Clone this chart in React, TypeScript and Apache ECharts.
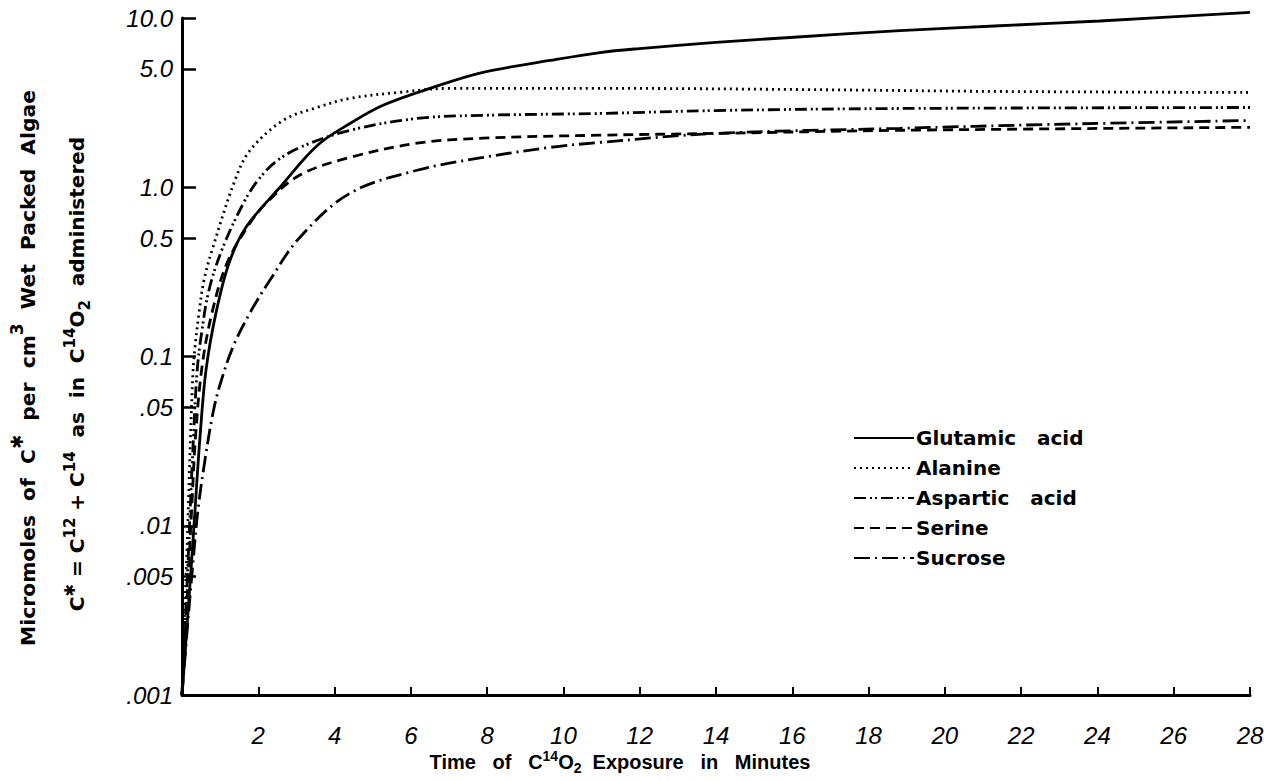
import React, { useEffect, useRef } from "react";
import * as echarts from "echarts";

const seriesNames = ["Glutamic acid", "Alanine", "Aspartic acid", "Serine", "Sucrose"];

// [minutes, micromoles]
const glutamic = [
  [0, 0.001], [0.131, 0.00254], [0.249, 0.00605], [0.354, 0.0137], [0.472, 0.0335],
  [0.629, 0.083], [0.891, 0.181], [1.232, 0.356], [1.678, 0.58], [2.569, 1.0], [3.539, 1.76],
  [4.404, 2.38], [5.27, 3.05], [6.58, 3.89], [7.89, 4.77], [9.65, 5.61], [10.96, 6.25],
  [12.0, 6.6], [14.0, 7.18], [15.94, 7.67], [18.82, 8.42], [21.44, 9.0], [24.06, 9.6], [28, 10.8],
];
const alanine = [
  [0, 0.001], [0.052, 0.00254], [0.118, 0.00605], [0.17, 0.0137], [0.223, 0.0335],
  [0.288, 0.08], [0.341, 0.114], [0.446, 0.181], [0.577, 0.283], [0.813, 0.443], [1.389, 1.1],
  [1.782, 1.65], [2.647, 2.48], [3.539, 2.96], [4.404, 3.35], [5.714, 3.64], [7.025, 3.84],
  [10.96, 3.84], [16.2, 3.78], [21.49, 3.68], [28, 3.63],
];
const aspartic = [
  [0, 0.001], [0.079, 0.00254], [0.157, 0.00605], [0.223, 0.0137], [0.301, 0.0335],
  [0.393, 0.08], [0.498, 0.13], [0.708, 0.247], [1.075, 0.443], [1.651, 0.838], [1.992, 1.1],
  [2.438, 1.404], [3.093, 1.72], [4.404, 2.17], [6.16, 2.55], [7.89, 2.66], [10.96, 2.73],
  [14.0, 2.84], [18.82, 2.92], [28, 2.96],
];
const serine = [
  [0, 0.001], [0.092, 0.00254], [0.183, 0.00605], [0.262, 0.0137], [0.354, 0.0335],
  [0.524, 0.0868], [0.786, 0.181], [1.18, 0.356], [1.78, 0.613], [2.23, 0.816], [3.09, 1.18],
  [4.4, 1.5], [6.16, 1.82], [7.89, 1.95], [10.96, 2.03], [14.0, 2.08], [18.82, 2.17], [28, 2.26],
];
const sucrose = [
  [0, 0.001], [0.144, 0.00254], [0.288, 0.00605], [0.419, 0.0124], [0.603, 0.0245],
  [0.813, 0.0465], [0.996, 0.0681], [1.337, 0.114], [1.782, 0.181], [2.307, 0.283],
  [3.093, 0.507], [4.404, 0.922], [6.16, 1.26], [7.89, 1.5], [9.65, 1.72], [10.96, 1.84],
  [14.0, 2.08], [18.82, 2.23], [22.75, 2.35], [28, 2.48],
];

const yTickValues = [0.001, 0.005, 0.01, 0.05, 0.1, 0.5, 1, 5, 10];
const yTickLabels = [".001", ".005", ".01", ".05", "0.1", "0.5", "1.0", "5.0", "10.0"];

const lineTypes: any[] = ["solid", [2, 4], [12, 4, 2, 3, 2, 4], [10, 6], [16, 5, 2, 5]];

const FONT = "DejaVu Sans";

export default function App() {
  const ref = useRef<HTMLDivElement>(null);
  useEffect(() => {
    document.body.style.margin = "0";
    const chart = echarts.init(ref.current!, null, { renderer: "svg" });
    const datasets = [glutamic, alanine, aspartic, serine, sucrose];
    const nb = "\u00a0";
    const option: any = {
      animation: false,
      backgroundColor: "#fff",
      grid: { left: 182, right: 24, top: 18, bottom: 86, containLabel: false },
      legend: {
        orient: "vertical",
        left: 848,
        top: 423,
        itemWidth: 60,
        itemHeight: 14,
        itemGap: 10,
        data: seriesNames,
        itemStyle: { opacity: 0 },
        formatter: (n: string) => n.replace(/ /g, nb + nb + nb),
        textStyle: {
          fontFamily: FONT,
          fontSize: 20,
          fontWeight: "bold",
          color: "#000",
          padding: [0, 0, 0, -3],
        },
      },
      xAxis: {
        type: "value",
        min: 0,
        max: 28,
        interval: 2,
        axisLine: { lineStyle: { color: "#000", width: 3 } },
        axisTick: { inside: true, length: 8, lineStyle: { color: "#000", width: 2 } },
        splitLine: { show: false },
        axisLabel: {
          margin: 28,
          fontFamily: "Liberation Sans",
          fontStyle: "italic",
          fontSize: 24,
          color: "#000",
          formatter: (v: number) => (v === 0 ? "" : String(v)),
        },
      },
      yAxis: {
        type: "log",
        logBase: 10,
        min: 0.001,
        max: 10,
        axisLine: { show: true, lineStyle: { color: "#000", width: 3 } },
        axisTick: {
          show: true,
          inside: true,
          length: 14,
          customValues: yTickValues,
          lineStyle: { color: "#000", width: 2.5 },
        },
        minorTick: { show: false },
        splitLine: { show: false },
        axisLabel: {
          customValues: yTickValues,
          margin: 9,
          fontFamily: "Liberation Sans",
          fontStyle: "italic",
          fontSize: 24,
          color: "#000",
          formatter: (v: number) => {
            let best = 0;
            let bd = Infinity;
            yTickValues.forEach((t, i) => {
              const d = Math.abs(Math.log10(v) - Math.log10(t));
              if (d < bd) {
                bd = d;
                best = i;
              }
            });
            return yTickLabels[best];
          },
        },
      },
      series: datasets.map((d, i) => ({
        name: seriesNames[i],
        type: "line",
        data: d,
        showSymbol: false,
        symbol: "none",
        smooth: 0.35,
        clip: false,
        lineStyle: { color: "#000", width: 2.8, type: lineTypes[i] },
        itemStyle: { color: "#000" },
      })),
      graphic: [
        {
          type: "text",
          x: 23,
          y: 368,
          rotation: Math.PI / 2,
          style: {
            text: "{n|Micromoles  of  C}{s|✱}{n|  per  cm}{s|3}{n|  Wet  Packed  Algae}",
            align: "center",
            verticalAlign: "middle",
            fill: "#000",
            rich: {
              n: { fontFamily: FONT, fontSize: 20.3, fontWeight: "bold", lineHeight: 30, fill: "#000", verticalAlign: "bottom" },
              s: { fontFamily: FONT, fontSize: 17, fontWeight: "bold", lineHeight: 18, fill: "#000", verticalAlign: "top" },
            },
          },
        },
        {
          type: "text",
          x: 77,
          y: 374,
          rotation: Math.PI / 2,
          style: {
            text: "{n|C}{s|✱}{n| = C}{s|12}{n| + C}{s|14}{n|  as  in  C}{s|14}{n|O}{b|2}{n|  administered}",
            align: "center",
            verticalAlign: "middle",
            fill: "#000",
            rich: {
              n: { fontFamily: FONT, fontSize: 20, fontWeight: "bold", lineHeight: 30, fill: "#000", verticalAlign: "middle" },
              s: { fontFamily: FONT, fontSize: 15, fontWeight: "bold", lineHeight: 18, fill: "#000", verticalAlign: "top" },
              b: { fontFamily: FONT, fontSize: 15, fontWeight: "bold", lineHeight: 16, fill: "#000", verticalAlign: "bottom" },
            },
          },
        },
        {
          type: "text",
          x: 620,
          y: 762,
          style: {
            text: "{n|Time   of   C}{s|14}{n|O}{b|2}{n|  Exposure   in   Minutes}",
            align: "center",
            verticalAlign: "middle",
            fill: "#000",
            rich: {
              n: { fontFamily: "Liberation Sans", fontSize: 20, fontWeight: "bold", lineHeight: 26, fill: "#000", verticalAlign: "middle" },
              s: { fontFamily: "Liberation Sans", fontSize: 14, fontWeight: "bold", lineHeight: 14, fill: "#000", verticalAlign: "top" },
              b: { fontFamily: "Liberation Sans", fontSize: 14, fontWeight: "bold", lineHeight: 14, fill: "#000", verticalAlign: "bottom" },
            },
          },
        },
      ],
    };
    chart.setOption(option);
    return () => chart.dispose();
  }, []);
  return <div ref={ref} style={{ width: 1274, height: 781 }} />;
}
